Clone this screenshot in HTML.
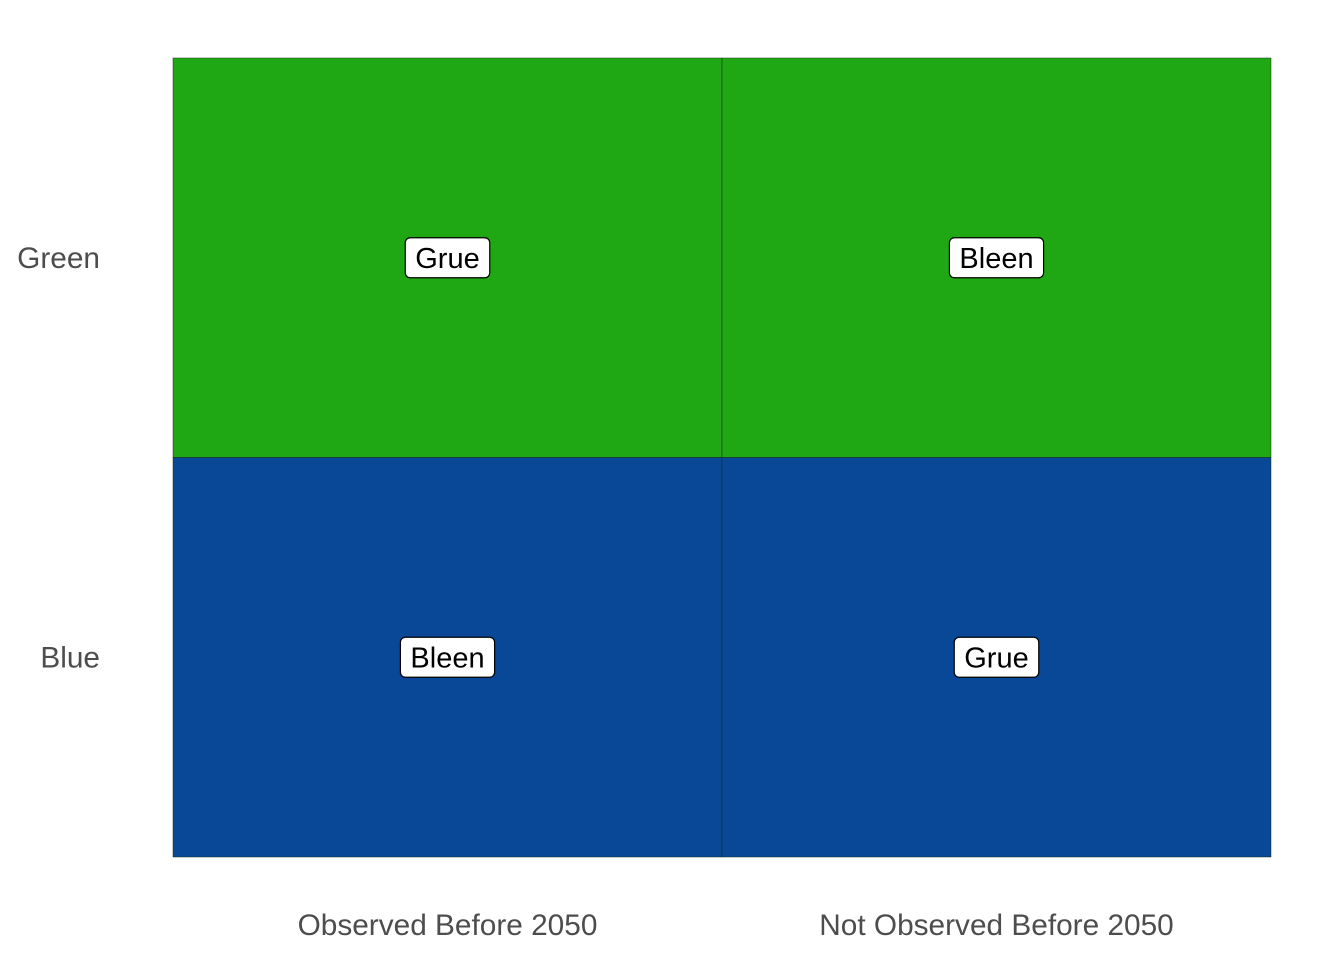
<!DOCTYPE html>
<html><head><meta charset="utf-8"><style>
body{margin:0;background:#fff;}
svg{display:block;font-family:"Liberation Sans",sans-serif;}
</style></head><body>
<svg id="chart" width="1344" height="960" viewBox="0 0 1344 960"></svg>
<script>
const xCategories = ["Observed Before 2050", "Not Observed Before 2050"];
const yCategories = ["Green", "Blue"];
const tileColors = ["Green", "Green", "Blue", "Blue"];
const tileX = ["Observed Before 2050", "Not Observed Before 2050", "Observed Before 2050", "Not Observed Before 2050"];
const tileY = ["Green", "Green", "Blue", "Blue"];
const tileLabels = ["Grue", "Bleen", "Bleen", "Grue"];

const NS = "http://www.w3.org/2000/svg";
const svg = document.getElementById("chart");
const plot = {left:173, right:1271, top:58, bottom:857};
const cw = (plot.right - plot.left) / xCategories.length;
const ch = (plot.bottom - plot.top) / yCategories.length;
const xScale = c => plot.left + xCategories.indexOf(c) * cw;
const yScale = c => plot.top + yCategories.indexOf(c) * ch;
const fillMap = {Green:"#1fa814", Blue:"#084896"};
function mk(tag, attrs){const e=document.createElementNS(NS,tag);for(const k in attrs)e.setAttribute(k,attrs[k]);svg.appendChild(e);return e;}

for(let i=0;i<tileLabels.length;i++){
  const x=xScale(tileX[i]), y=yScale(tileY[i]);
  const r=mk("rect",{x:x,y:y,width:cw,height:ch,fill:fillMap[tileColors[i]],stroke:"#1a2a1a","stroke-width":0.6,"stroke-opacity":0.8});
  
  
}
for(let i=0;i<tileLabels.length;i++){
  const cx=xScale(tileX[i])+cw/2, cy=yScale(tileY[i])+ch/2;
  const b=mk("rect",{y:cy-20,height:40,rx:5,fill:"#fff",stroke:"#000","stroke-width":1.2});
  
  
  const tx=mk("text",{x:cx,y:cy+10,"text-anchor":"middle","font-size":29,fill:"#000"});
  tx.textContent=tileLabels[i];
  
  
  const w=tx.getComputedTextLength()+20;
  b.setAttribute("x",cx-w/2);
  b.setAttribute("width",w);
}
xCategories.forEach(c=>{
  const t=mk("text",{x:xScale(c)+cw/2,y:935,"text-anchor":"middle","font-size":29.8,fill:"#4d4d4d"});
  t.textContent=c;
  
  
});
yCategories.forEach(c=>{
  const t=mk("text",{x:100,y:yScale(c)+ch/2+10,"text-anchor":"end","font-size":29.8,fill:"#4d4d4d"});
  t.textContent=c;
  
  
});
</script>
</body></html>
